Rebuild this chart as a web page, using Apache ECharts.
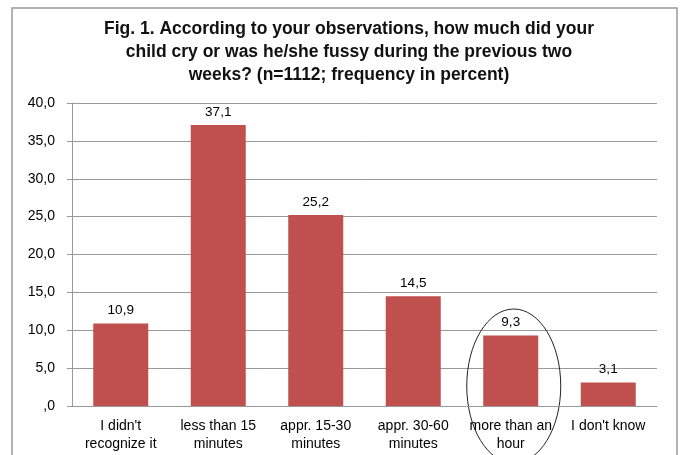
<!DOCTYPE html>
<html><head><meta charset="utf-8">
<script src="https://cdn.jsdelivr.net/npm/echarts@6/dist/echarts.min.js"></script>
<style>html,body{margin:0;padding:0;background:#fff}#c{width:680px;height:455px}</style>
</head><body><div id="c"></div>
<script>
const categories = ["I didn't\nrecognize it", "less than 15\nminutes", "appr. 15-30\nminutes", "appr. 30-60\nminutes", "more than an\nhour", "I don't know"];
const values = [10.9, 37.1, 25.2, 14.5, 9.3, 3.1];
const yTicks = [0, 5, 10, 15, 20, 25, 30, 35, 40];
const highlightIndex = 4;

const fmt = v => v === 0 ? ',0' : v.toFixed(1).replace('.', ',');
const font = '"Liberation Sans", Arial, sans-serif';

const chart = echarts.init(document.getElementById('c'), null, {renderer: 'canvas'});
const option = {
  backgroundColor: '#fff',
  animation: false,
  title: {
    text: 'Fig. 1. According to your observations, how much did your\nchild cry or was he/she fussy during the previous two\nweeks? (n=1112; frequency in percent)',
    left: 344, top: 13, textAlign: 'center',
    textStyle: {fontFamily: font, fontWeight: 'bold', fontSize: 17.5, lineHeight: 23, color: '#111'}
  },
  grid: {left: 72, right: 23, top: 103, bottom: 49},
  xAxis: {
    type: 'category', data: categories,
    axisLine: {lineStyle: {color: '#999'}},
    axisTick: {show: false},
    axisLabel: {fontFamily: font, fontSize: 14, color: '#000', interval: 0, lineHeight: 18, margin: 11}
  },
  yAxis: {
    type: 'value', min: yTicks[0], max: yTicks[yTicks.length - 1], interval: 5,
    axisLine: {show: true, lineStyle: {color: '#999'}},
    axisTick: {show: true, length: 5, lineStyle: {color: '#999'}},
    splitLine: {lineStyle: {color: '#999', width: 1}},
    axisLabel: {fontFamily: font, fontSize: 14, color: '#000', margin: 17, formatter: fmt}
  },
  series: [{
    type: 'bar', data: values, barWidth: 55,
    itemStyle: {color: '#C0504D'},
    label: {show: true, position: 'top', distance: 6, fontFamily: font, fontSize: 13.5, color: '#000', formatter: p => fmt(p.value)}
  }]
};
chart.setOption(option);
const p = chart.convertToPixel({seriesIndex: 0}, [highlightIndex, values[highlightIndex]]);
const base = chart.convertToPixel({seriesIndex: 0}, [highlightIndex, 0]);
chart.setOption({
  graphic: [
    {type: 'rect', shape: {x: 12, y: 8, width: 665, height: 460}, style: {fill: 'none', stroke: '#999', lineWidth: 1.5}, silent: true},
    {type: 'ellipse', shape: {cx: p[0] + 3, cy: base[1] - 20, rx: 47, ry: 77}, style: {fill: 'none', stroke: '#222', lineWidth: 1}, silent: true}
  ]
});
</script></body></html>
